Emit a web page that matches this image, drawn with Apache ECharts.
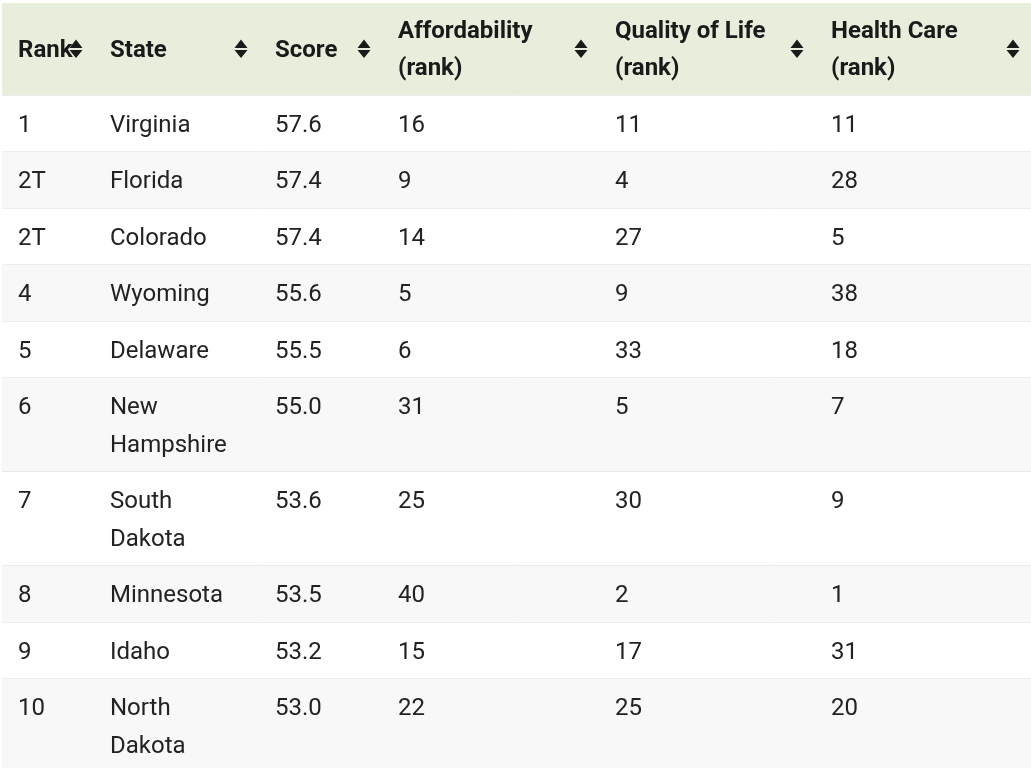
<!DOCTYPE html>
<html>
<head>
<meta charset="utf-8">
<script src="https://cdn.jsdelivr.net/npm/echarts@6/dist/echarts.min.js"></script>
<style>
  html, body { margin: 0; padding: 0; background: #fff; overflow: hidden; }
  #table_chart { width: 1031px; height: 768px; }
</style>
</head>
<body>
<div id="table_chart"></div>
<script>
// table data
var headers = ['Rank', 'State', 'Score', 'Affordability (rank)', 'Quality of Life (rank)', 'Health Care (rank)'];
var ranks = ['1', '2T', '2T', '4', '5', '6', '7', '8', '9', '10'];
var states = ['Virginia', 'Florida', 'Colorado', 'Wyoming', 'Delaware', 'New Hampshire', 'South Dakota', 'Minnesota', 'Idaho', 'North Dakota'];
var scores = [57.6, 57.4, 57.4, 55.6, 55.5, 55.0, 53.6, 53.5, 53.2, 53.0];
var affordability = [16, 9, 14, 5, 6, 31, 25, 40, 15, 22];
var qualityOfLife = [11, 4, 27, 9, 33, 5, 30, 2, 17, 25];
var healthCare = [11, 28, 5, 38, 18, 7, 9, 1, 31, 20];

draw_table('table_chart');

function draw_table(id) {
  var chart = echarts.init(document.getElementById(id));
  var colX = [2, 94, 259, 382, 599, 815, 1031];
  var pad = 16;
  var lineH = 37.5;
  var headTop = 3, headH = 92;
  var fontFamily = 'Roboto, "Noto Sans", sans-serif';

  // measure text to know how many lines a cell needs
  var ctx = document.createElement('canvas').getContext('2d');
  function countLines(text, width, weight) {
    ctx.font = (weight || 'normal') + ' 24px Roboto';
    var words = String(text).split(' ');
    var lines = 1, cur = '';
    words.forEach(function (w) {
      var test = cur ? cur + ' ' + w : w;
      if (cur && ctx.measureText(test).width > width) { lines++; cur = w; }
      else cur = test;
    });
    return lines;
  }

  var els = [];
  // header band
  els.push({ type: 'rect', shape: { x: colX[0], y: headTop, width: colX[6] - colX[0], height: headH }, style: { fill: '#e7eedc' } });
  headers.forEach(function (h, c) {
    els.push({
      type: 'text',
      style: {
        text: h, x: colX[c] + pad, y: headTop + headH / 2 + 1.5,
        width: Math.max(colX[c + 1] - colX[c] - pad - 34, 80), overflow: 'break',
        fontSize: 24, fontWeight: 'bold', fontFamily: fontFamily,
        lineHeight: 37, verticalAlign: 'middle', fill: '#1a1a1a'
      }
    });
    // sort arrows
    var cx = colX[c + 1] - 18, cy = headTop + headH / 2;
    els.push({ type: 'polygon', shape: { points: [[cx - 6.5, cy - 1], [cx + 6.5, cy - 1], [cx, cy - 9.5]] }, style: { fill: '#1a1a1a' } });
    els.push({ type: 'polygon', shape: { points: [[cx - 6.5, cy + 1], [cx + 6.5, cy + 1], [cx, cy + 9]] }, style: { fill: '#1a1a1a' } });
  });
  els.push({ type: 'line', shape: { x1: colX[0], y1: headTop + headH + 0.5, x2: colX[6], y2: headTop + headH + 0.5 }, style: { stroke: '#dadada', lineWidth: 1 } });

  var y = headTop + headH + 0.5;
  for (var i = 0; i < ranks.length; i++) {
    var row = [ranks[i], states[i], scores[i].toFixed(1), affordability[i], qualityOfLife[i], healthCare[i]];
    var lines = 1;
    row.forEach(function (v, c) {
      lines = Math.max(lines, countLines(v, colX[c + 1] - colX[c] - 2 * pad));
    });
    var h = 19 + lines * lineH;
    els.push({ type: 'rect', shape: { x: colX[0], y: y, width: colX[6] - colX[0], height: h }, style: { fill: i % 2 ? '#f8f8f8' : '#ffffff' } });
    row.forEach(function (v, c) {
      els.push({
        type: 'text',
        style: {
          text: String(v), x: colX[c] + pad, y: y + 30 - lineH / 2,
          width: colX[c + 1] - colX[c] - 2 * pad, overflow: 'break',
          fontSize: 24, fontFamily: fontFamily, lineHeight: lineH,
          verticalAlign: 'top', fill: '#222222'
        }
      });
    });
    y += h;
    els.push({ type: 'line', shape: { x1: colX[0], y1: y, x2: colX[6], y2: y }, style: { stroke: '#dadada', lineWidth: 1 } });
  }

  var option = {
    animation: false,
    graphic: { elements: els }
  };
  chart.setOption(option);
}
</script>
</body>
</html>
